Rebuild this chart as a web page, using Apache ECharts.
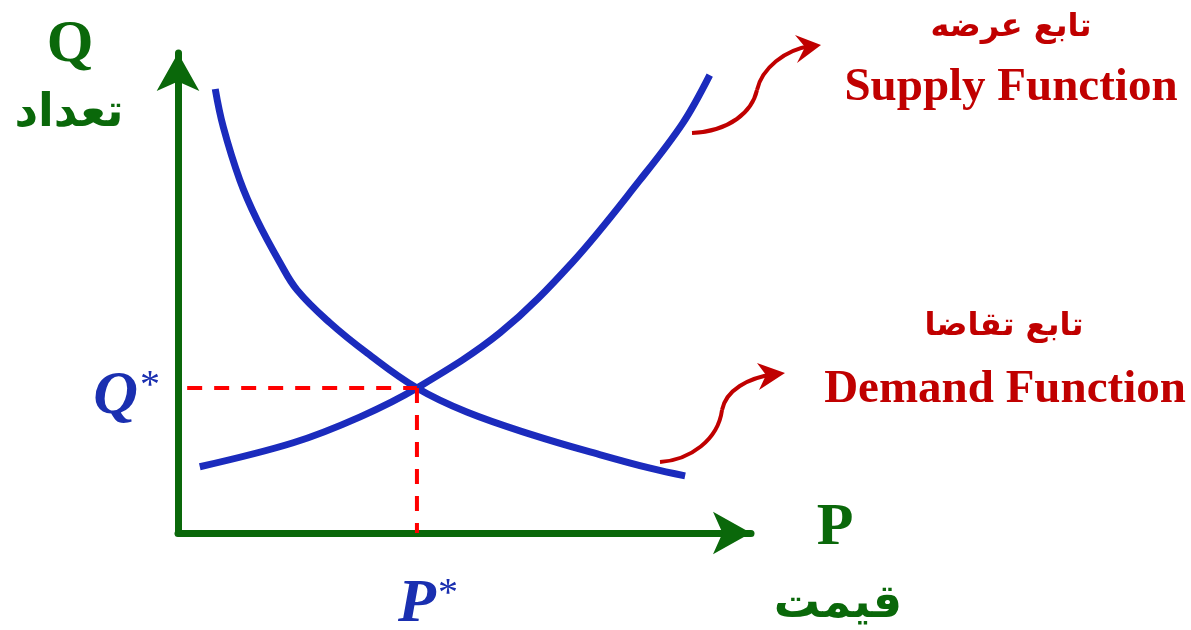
<!DOCTYPE html>
<html>
<head>
<meta charset="utf-8">
<title>Supply and Demand</title>
<script src="https://cdn.jsdelivr.net/npm/echarts/dist/echarts.min.js"></script>
<style>
  html, body { margin: 0; padding: 0; background: #fff; }
  #main { width: 1191px; height: 630px; }
</style>
</head>
<body>
<div id="main"></div>
<script>
// curve points, axes run 0..100
var supplyP = [3.8, 20.1, 31.8, 41.7, 56.2, 68.9, 80.6, 88.1, 92.8];
var supplyQ = [13.8, 18.8, 24.2, 30.2, 41.7, 56.5, 73.5, 85.4, 95.4];

var demandP = [6.5, 7.9, 10.8, 13.8, 17.8, 20.8, 26.5, 33.0, 41.7, 50.4, 62.0, 73.7, 82.4, 88.5];
var demandQ = [92.5, 84.6, 73.5, 65.2, 56.3, 50.6, 43.8, 37.5, 30.2, 25.2, 20.4, 16.3, 13.5, 11.9];

// equilibrium
var pStar = 41.7;
var qStar = 30.2;
var guideStart = 1.6;

var green = '#0a680a';
var blue = '#1b2bbd';
var red = '#c00000';

function pairs(xs, ys) {
  return xs.map(function (x, i) { return [x, ys[i]]; });
}

var myChart = echarts.init(document.getElementById('main'));

var starRich = {
  v: { fontFamily: 'Liberation Serif', fontWeight: 'bold', fontStyle: 'italic', fontSize: 62, color: '#1a2fb0' },
  s: { fontFamily: 'Liberation Serif', fontSize: 40, color: '#1a2fb0', verticalAlign: 'top', padding: [0, 0, 0, 2] }
};

var axisLineStyle = {
  show: true,
  onZero: false,
  symbol: ['none', 'arrow'],
  symbolSize: [32, 38],
  lineStyle: { color: green, width: 7 }
};

var option = {
  animation: false,
  // keep the plot box fixed, labels may hang outside
  grid: { left: 178, top: 53, right: 440, bottom: 97, containLabel: false, outerBoundsMode: 'none' },
  xAxis: {
    type: 'value',
    min: 0,
    max: 100,
    axisLine: axisLineStyle,
    axisTick: { show: false },
    splitLine: { show: false },
    axisLabel: {
      customValues: [pStar],
      margin: 41,
      padding: [0, 0, 0, 22],
      formatter: function () { return '{v|P}{s|*}'; },
      rich: starRich
    }
  },
  yAxis: {
    type: 'value',
    min: 0,
    max: 100,
    axisLine: axisLineStyle,
    axisTick: { show: false },
    splitLine: { show: false },
    axisLabel: {
      customValues: [qStar],
      margin: 18,
      padding: [18, 0, 0, 0],
      formatter: function () { return '{v|Q}{s|*}'; },
      rich: starRich
    }
  },
  series: [
    {
      name: 'Supply',
      type: 'line',
      smooth: 0.35,
      showSymbol: false,
      data: pairs(supplyP, supplyQ),
      lineStyle: { color: blue, width: 7 }
    },
    {
      name: 'Demand',
      type: 'line',
      smooth: 0.4,
      showSymbol: false,
      data: pairs(demandP, demandQ),
      lineStyle: { color: blue, width: 7 }
    },
    {
      type: 'line',
      showSymbol: false,
      data: [[guideStart, qStar], [pStar, qStar]],
      lineStyle: { color: '#ff0000', width: 4, type: [15, 12] }
    },
    {
      type: 'line',
      showSymbol: false,
      data: [[pStar, qStar], [pStar, 0]],
      lineStyle: { color: '#ff0000', width: 4, type: [15, 12] }
    }
  ],
  graphic: [
    // axis titles
    { type: 'text', x: 70, y: 45, style: { text: 'Q', fill: green, font: 'bold 60px "Liberation Serif"', textAlign: 'center', textVerticalAlign: 'middle' } },
    { type: 'text', x: 69, y: 114, style: { text: 'تعداد', fill: green, font: 'bold 46px "DejaVu Sans"', textAlign: 'center', textVerticalAlign: 'middle' } },
    { type: 'text', x: 835, y: 528, style: { text: 'P', fill: green, font: 'bold 60px "Liberation Serif"', textAlign: 'center', textVerticalAlign: 'middle' } },
    { type: 'text', x: 838, y: 605, style: { text: 'قیمت', fill: green, font: 'bold 46px "DejaVu Sans"', textAlign: 'center', textVerticalAlign: 'middle' } },

    // supply note
    { type: 'text', x: 1011, y: 28, style: { text: 'تابع عرضه', fill: red, font: 'bold 32px "DejaVu Sans"', textAlign: 'center', textVerticalAlign: 'middle' } },
    { type: 'text', x: 1011, y: 88, style: { text: 'Supply Function', fill: red, font: 'bold 47px "Liberation Serif"', textAlign: 'center', textVerticalAlign: 'middle' } },
    { type: 'bezierCurve', shape: { x1: 692, y1: 133, cpx1: 730, cpy1: 131, cpx2: 752, cpy2: 112, x2: 757, y2: 90 }, style: { stroke: red, lineWidth: 4, fill: null } },
    { type: 'bezierCurve', shape: { x1: 757, y1: 90, cpx1: 762, cpy1: 68, cpx2: 785, cpy2: 50, x2: 810, y2: 46 }, style: { stroke: red, lineWidth: 4, fill: null } },
    { type: 'polygon', shape: { points: [[821, 45], [795, 35], [805, 47], [797, 63]] }, style: { fill: red } },

    // demand note
    { type: 'text', x: 1004, y: 327, style: { text: 'تابع تقاضا', fill: red, font: 'bold 32px "DejaVu Sans"', textAlign: 'center', textVerticalAlign: 'middle' } },
    { type: 'text', x: 1005, y: 390, style: { text: 'Demand Function', fill: red, font: 'bold 47px "Liberation Serif"', textAlign: 'center', textVerticalAlign: 'middle' } },
    { type: 'bezierCurve', shape: { x1: 660, y1: 462, cpx1: 690, cpy1: 460, cpx2: 718, cpy2: 440, x2: 722, y2: 410 }, style: { stroke: red, lineWidth: 4, fill: null } },
    { type: 'bezierCurve', shape: { x1: 722, y1: 410, cpx1: 726, cpy1: 390, cpx2: 748, cpy2: 378, x2: 774, y2: 374 }, style: { stroke: red, lineWidth: 4, fill: null } },
    { type: 'polygon', shape: { points: [[785, 373], [757, 363], [766, 375], [759, 390]] }, style: { fill: red } }
  ]
};

myChart.setOption(option);
</script>
</body>
</html>
